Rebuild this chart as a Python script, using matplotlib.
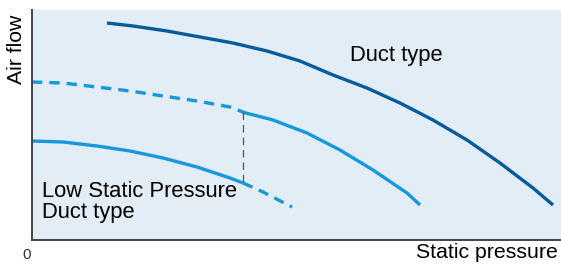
import numpy as np
import matplotlib.pyplot as plt

plt.rcParams['font.family'] = ['Liberation Sans', 'DejaVu Sans']

# curve points (x = static pressure, y = air flow, arbitrary units)
duct_x = [75, 101, 135, 168, 201, 235, 268, 301, 335, 368, 401, 435, 468, 501, 521]
duct_y = [217, 214, 209, 203, 197, 189, 179, 165, 152, 137, 120, 100, 77, 52, 35]

# middle curve: dashed part, then solid part
mid_dash_x = [0, 31, 65, 98, 131, 165, 198, 211]
mid_dash_y = [158, 157, 153, 149, 144, 139, 133, 128]
mid_solid_x = [210, 241, 275, 308, 341, 375, 388]
mid_solid_y = [128, 120, 107, 90, 70, 47, 35]

# low static pressure curve: solid part, then dashed part
low_solid_x = [0, 31, 65, 98, 131, 165, 198, 211]
low_solid_y = [99, 98, 94, 89, 82, 73, 62, 57]
low_dash_x = [211, 231, 260]
low_dash_y = [57, 48, 33]

ref_x = 211
ref_y = [58, 128]

fig = plt.figure(figsize=(5.61, 2.67), dpi=100)
ax = fig.add_axes([32 / 561, 27 / 267, 529 / 561, 230 / 267])
ax.set_facecolor('#e2edf5')

dark = '#035b9c'
light = '#1598dc'

ax.plot(duct_x, duct_y, color=dark, lw=2.4, solid_capstyle='butt', solid_joinstyle='round')
ax.plot(mid_dash_x, mid_dash_y, color=light, lw=2.4, dashes=(3.1, 2.1))
ax.plot(mid_solid_x, mid_solid_y, color=light, lw=2.4, solid_capstyle='butt', solid_joinstyle='round')
ax.plot(low_solid_x, low_solid_y, color=light, lw=2.4, solid_capstyle='butt', solid_joinstyle='round')
ax.plot(low_dash_x, low_dash_y, color=light, lw=2.4, dashes=(3.1, 2.1))
ax.plot([ref_x, ref_x], ref_y, color='#555555', lw=0.9, dashes=(6, 4))

ax.set_xlim(0, 529)
ax.set_ylim(0, 230)
ax.set_xticks([])
ax.set_yticks([])
for s in ['top', 'right']:
    ax.spines[s].set_visible(False)
for s in ['left', 'bottom']:
    ax.spines[s].set_color('#444444')
    ax.spines[s].set_linewidth(1.4)

ax.text(318, 185, 'Duct type', fontsize=15.8, va='center', ha='left')
ax.text(10, 43, 'Low Static Pressure', fontsize=15.8, va='baseline', ha='left')
ax.text(10, 22, 'Duct type', fontsize=15.8, va='baseline', ha='left')

fig.text(17 / 561, 1 - 49 / 267, 'Air flow', fontsize=15.3, rotation=90,
         ha='center', va='center')
fig.text(558 / 561, 1 - 253 / 267, 'Static pressure', fontsize=15.3,
         ha='right', va='center')
fig.text(27 / 561, 1 - 255 / 267, '0', fontsize=11, ha='center', va='center',
         color='#333333')

fig.savefig('out.png', dpi=100)
